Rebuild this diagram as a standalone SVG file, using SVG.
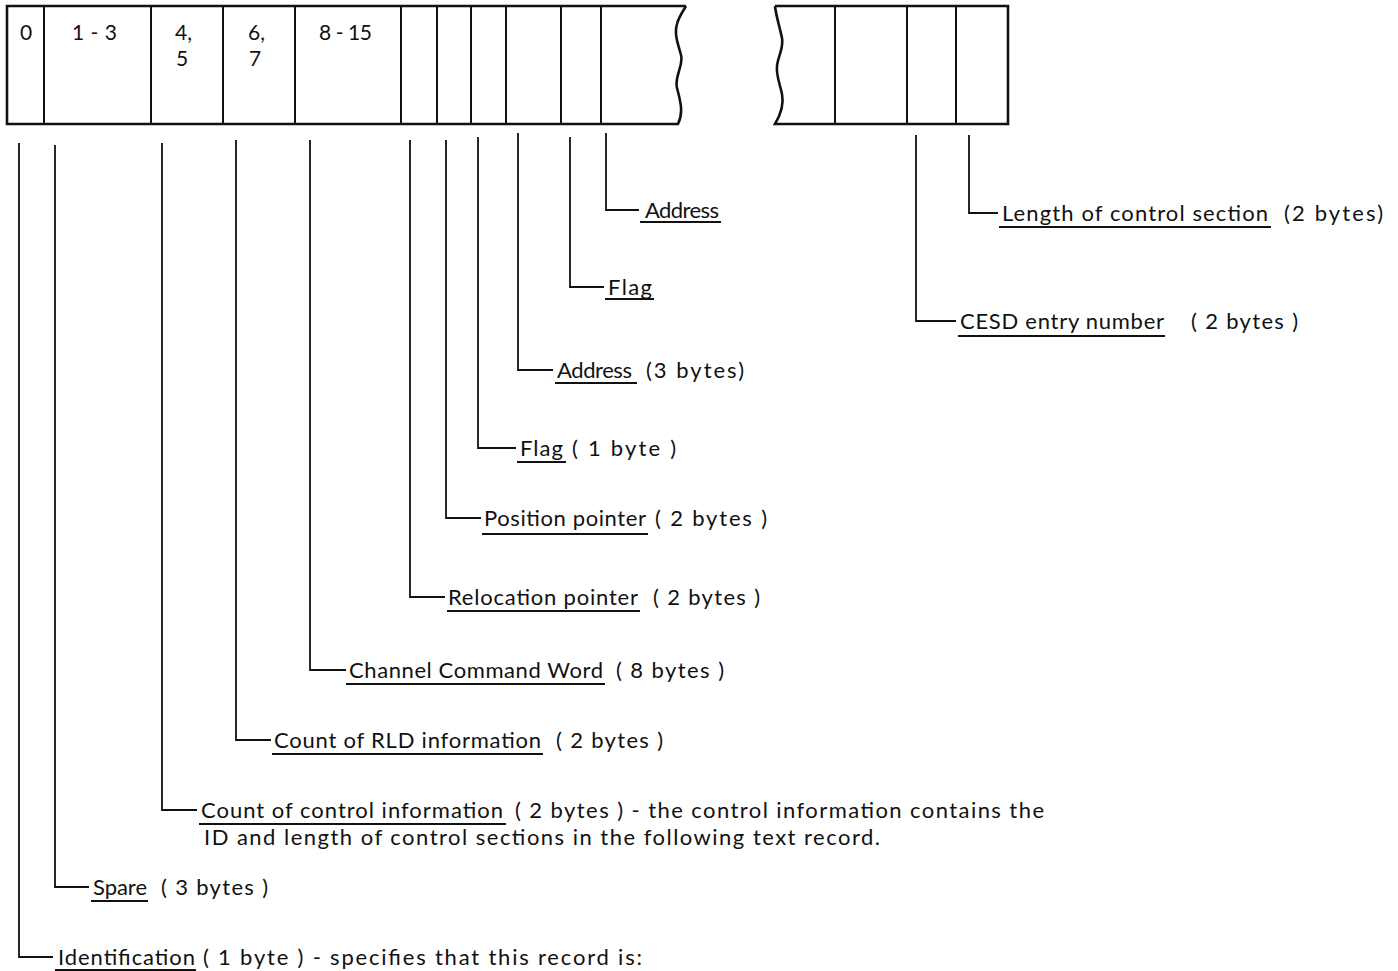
<svg xmlns="http://www.w3.org/2000/svg" width="1398" height="971" viewBox="0 0 1398 971">
<style>
text{font-family:Lato,"DejaVu Sans",sans-serif;font-size:22px;fill:#111}
.n{font-size:21px}
.box{fill:none;stroke:#111;stroke-width:2.6;stroke-linejoin:miter}
.div{stroke:#111;stroke-width:2}
.ld{fill:none;stroke:#111;stroke-width:1.8}
.ul{stroke:#111;stroke-width:1.8}
</style>
<rect width="1398" height="971" fill="#fff"/>
<g id="record-left">
<path class="box" d="M686,6 H7 V124 H678 C684,112 680,100 677,88 C674,76 684,66 681,55 C678,44 674,34 677,24 C679,16 684,10 686,6"/>
<line class="div" x1="44" y1="6" x2="44" y2="124"/>
<line class="div" x1="151" y1="6" x2="151" y2="124"/>
<line class="div" x1="223" y1="6" x2="223" y2="124"/>
<line class="div" x1="295" y1="6" x2="295" y2="124"/>
<line class="div" x1="401" y1="6" x2="401" y2="124"/>
<line class="div" x1="437" y1="6" x2="437" y2="124"/>
<line class="div" x1="471" y1="6" x2="471" y2="124"/>
<line class="div" x1="506" y1="6" x2="506" y2="124"/>
<line class="div" x1="561" y1="6" x2="561" y2="124"/>
<line class="div" x1="601" y1="6" x2="601" y2="124"/>
<text class="n" x="20" y="40">0</text>
<text class="n" x="72" y="40" textLength="45" lengthAdjust="spacing">1 - 3</text>
<text class="n" x="175" y="40">4,</text>
<text class="n" x="176" y="66">5</text>
<text class="n" x="248" y="40">6,</text>
<text class="n" x="249" y="66">7</text>
<text class="n" x="319" y="40" textLength="53" lengthAdjust="spacing">8 - 15</text>
</g>
<g id="record-right">
<path class="box" d="M775,6 H1008 V124 H775 C781,114 784,104 782,94 C780,84 776,76 777,66 C778,56 784,48 782,38 C780,28 776,16 775,6"/>
<line class="div" x1="835" y1="6" x2="835" y2="124"/>
<line class="div" x1="907" y1="6" x2="907" y2="124"/>
<line class="div" x1="956" y1="6" x2="956" y2="124"/>
</g>
<g id="connectors">
<path class="ld" d="M19,143 V957 H53"/>
<path class="ld" d="M55,145 V887 H89"/>
<path class="ld" d="M162,143 V810 H197"/>
<path class="ld" d="M236,140 V740 H271"/>
<path class="ld" d="M310,140 V670 H346"/>
<path class="ld" d="M410,140 V597 H445"/>
<path class="ld" d="M446,140 V518 H481"/>
<path class="ld" d="M478,137 V448 H516"/>
<path class="ld" d="M518,133 V370 H553"/>
<path class="ld" d="M570,137 V287 H604"/>
<path class="ld" d="M606,133 V210 H639"/>
<path class="ld" d="M916,135 V321 H956"/>
<path class="ld" d="M969,135 V213 H998"/>
</g>
<g id="label-address">
<text x="645" y="218" textLength="74" lengthAdjust="spacing">Address</text>
<line class="ul" x1="640" y1="222" x2="721" y2="222"/>
</g>
<g id="label-flag">
<text x="608" y="295" textLength="44" lengthAdjust="spacing">Flag</text>
<line class="ul" x1="605" y1="299" x2="654" y2="299"/>
</g>
<g id="label-address3">
<text x="557" y="378" textLength="75" lengthAdjust="spacing">Address</text>
<text x="646" y="378" textLength="98" lengthAdjust="spacing">(3 bytes)</text>
<line class="ul" x1="555" y1="383" x2="637" y2="383"/>
</g>
<g id="label-flag1">
<text x="520" y="456" textLength="43" lengthAdjust="spacing">Flag</text>
<text x="572" y="456" textLength="104" lengthAdjust="spacing">( 1 byte )</text>
<line class="ul" x1="517" y1="462" x2="566" y2="462"/>
</g>
<g id="label-position">
<text x="484" y="526" textLength="162" lengthAdjust="spacing">Position pointer</text>
<text x="655" y="526" textLength="112" lengthAdjust="spacing">( 2 bytes )</text>
<line class="ul" x1="482" y1="534" x2="648" y2="534"/>
</g>
<g id="label-relocation">
<text x="448" y="605" textLength="190" lengthAdjust="spacing">Relocation pointer</text>
<text x="653" y="605" textLength="107" lengthAdjust="spacing">( 2 bytes )</text>
<line class="ul" x1="447" y1="611" x2="640" y2="611"/>
</g>
<g id="label-ccw">
<text x="349" y="678" textLength="254" lengthAdjust="spacing">Channel Command Word</text>
<text x="616" y="678" textLength="108" lengthAdjust="spacing">( 8 bytes )</text>
<line class="ul" x1="346" y1="684" x2="605" y2="684"/>
</g>
<g id="label-rld">
<text x="274" y="748" textLength="267" lengthAdjust="spacing">Count of RLD information</text>
<text x="556" y="748" textLength="107" lengthAdjust="spacing">( 2 bytes )</text>
<line class="ul" x1="272" y1="754" x2="543" y2="754"/>
</g>
<g id="label-control">
<text x="201" y="818" textLength="302" lengthAdjust="spacing">Count of control information</text>
<text x="515" y="818" textLength="529" lengthAdjust="spacing">( 2 bytes ) - the control information contains the</text>
<text x="204" y="845" textLength="676" lengthAdjust="spacing">ID and length of control sections in the following text record.</text>
<line class="ul" x1="199" y1="824" x2="506" y2="824"/>
</g>
<g id="label-spare">
<text x="93" y="895" textLength="54" lengthAdjust="spacing">Spare</text>
<text x="161" y="895" textLength="107" lengthAdjust="spacing">( 3 bytes )</text>
<line class="ul" x1="91" y1="901" x2="148" y2="901"/>
</g>
<g id="label-identification">
<text x="58" y="965" textLength="137" lengthAdjust="spacing">Identification</text>
<text x="203" y="965" textLength="439" lengthAdjust="spacing">( 1 byte ) - specifies that this record is:</text>
<line class="ul" x1="55" y1="970" x2="196" y2="970"/>
</g>
<g id="label-length">
<text x="1002" y="221" textLength="266" lengthAdjust="spacing">Length of control section</text>
<text x="1284" y="221" textLength="99" lengthAdjust="spacing">(2 bytes)</text>
<line class="ul" x1="999" y1="227" x2="1271" y2="227"/>
</g>
<g id="label-cesd">
<text x="960" y="329" textLength="204" lengthAdjust="spacing">CESD entry number</text>
<text x="1191" y="329" textLength="107" lengthAdjust="spacing">( 2 bytes )</text>
<line class="ul" x1="958" y1="336" x2="1165" y2="336"/>
</g>
</svg>
